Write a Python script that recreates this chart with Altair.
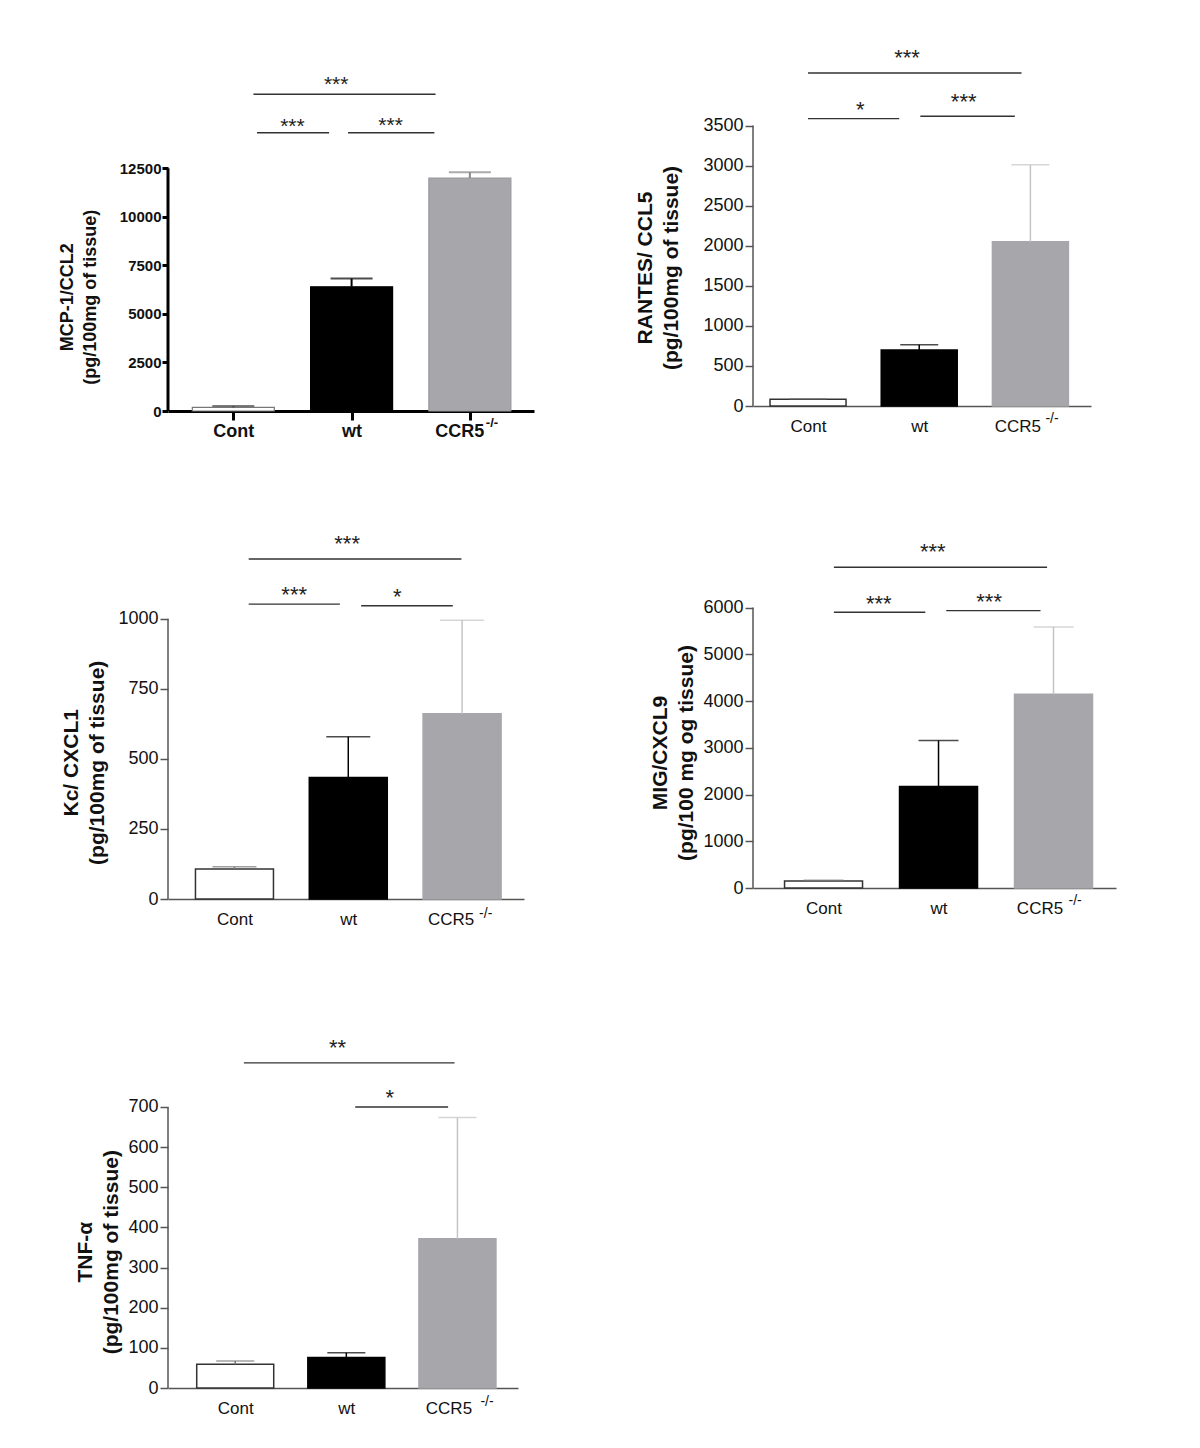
import altair as alt
import pandas as pd

FONT = "Liberation Sans"
groups = ["Cont", "wt", "CCR5"]
group_idx = [0, 1, 2]
superscript = "-/-"
bar_fill = ["#ffffff", "#000000", "#a7a6ab"]

# ---- MCP-1/CCL2 ----
mcp_title = ["MCP-1/CCL2", "(pg/100mg of tissue)"]
mcp_mean = [190, 6400, 12000]
mcp_err = [65, 420, 300]
mcp_ticks = [0, 2500, 5000, 7500, 10000, 12500]
mcp_sig_from = [0.17, 0.20, 0.97]
mcp_sig_to = [1.71, 0.81, 1.70]
mcp_sig_level = [16311, 14334, 14334]
mcp_sig_text = ["***", "***", "***"]
mcp_sig_text_x = [0.87, 0.50, 1.33]
mcp_sig_text_level = [17012, 14869, 14921]

# ---- RANTES/CCL5 ----
rantes_title = ["RANTES/ CCL5", "(pg/100mg of tissue)"]
rantes_mean = [85, 700, 2050]
rantes_err = [6, 65, 960]
rantes_ticks = [0, 500, 1000, 1500, 2000, 2500, 3000, 3500]
rantes_sig_from = [0.0, 0.0, 1.01]
rantes_sig_to = [1.92, 0.82, 1.86]
rantes_sig_level = [4157, 3587, 3616]
rantes_sig_text = ["***", "*", "***"]
rantes_sig_text_x = [0.89, 0.47, 1.40]
rantes_sig_text_level = [4406, 3753, 3857]

# ---- Kc/CXCL1 ----
kc_title = ["Kc/ CXCL1", "(pg/100mg of tissue)"]
kc_mean = [107, 433, 661]
kc_err = [8, 146, 333]
kc_ticks = [0, 250, 500, 750, 1000]
kc_sig_from = [0.125, 0.125, 1.113]
kc_sig_to = [1.994, 0.926, 1.918]
kc_sig_level = [1213, 1052, 1046]
kc_sig_text = ["***", "***", "*"]
kc_sig_text_x = [0.99, 0.525, 1.43]
kc_sig_text_level = [1283, 1100, 1094]

# ---- MIG/CXCL9 ----
mig_title = ["MIG/CXCL9", "(pg/100 mg og tissue)"]
mig_mean = [150, 2170, 4145]
mig_err = [15, 985, 1440]
mig_ticks = [0, 1000, 2000, 3000, 4000, 5000, 6000]
mig_sig_from = [0.09, 0.09, 1.067]
mig_sig_to = [1.944, 0.885, 1.887]
mig_sig_level = [6862, 5899, 5936]
mig_sig_text = ["***", "***", "***"]
mig_sig_text_x = [0.95, 0.48, 1.44]
mig_sig_text_level = [7284, 6171, 6227]

# ---- TNF-alpha ----
tnf_title = ["TNF-α", "(pg/100mg of tissue)"]
tnf_mean = [59, 76, 372]
tnf_err = [8, 12, 302]
tnf_ticks = [0, 100, 200, 300, 400, 500, 600, 700]
tnf_sig_from = [0.078, 1.08]
tnf_sig_to = [1.974, 1.916]
tnf_sig_level = [810, 700]
tnf_sig_text = ["**", "*"]
tnf_sig_text_x = [0.92, 1.39]
tnf_sig_text_level = [858, 735]

BOLD = dict(axis_color="#000000", axis_width=3, xticks=True, xtick=9, xpad=2,
            xlabel_size=18, ylabel_size=15, weight="bold", ytick=6, ypad=1,
            bar_stroke=["#777777", "#000000", "#9a999e"], bar_stroke_w=1.2,
            err_color=["#444444", "#000000", "#888888"], err_w=2,
            star_size=21, title_size=18, title_lh=23, sup_size=13)
PLAIN = dict(axis_color="#555555", axis_width=1.5, xticks=False, xtick=0, xpad=12,
             xlabel_size=17, ylabel_size=18, weight="normal", ytick=8, ypad=2,
             bar_stroke=["#333333", "#000000", "#a7a6ab"], bar_stroke_w=1.5,
             err_color=["#777777", "#000000", "#c4c4c4"], err_w=1.5,
             star_size=22, title_size=21, title_lh=26, sup_size=14)


def panel(title, means, errs, ticks, ymax, xdom, w, h, s_from, s_to, s_lvl, s_txt,
          s_tx, s_tl, st, bar_w, cap_w, title_x, title_y, ccr_off, sup_dx, sup_dy):
    data = pd.DataFrame({"idx": group_idx, "group": groups, "mean": means,
                         "top": [m + e for m, e in zip(means, errs)]})
    sig = pd.DataFrame({"x1": s_from, "x2": s_to, "lvl": s_lvl, "txt": s_txt,
                        "tx": s_tx, "tl": s_tl})
    xs = alt.Scale(domain=xdom, nice=False, zero=False)
    ys = alt.Scale(domain=[0, ymax], nice=False, zero=False)
    expr = "[" + ",".join("'%s'" % g for g in groups) + "][datum.value]"
    xaxis = alt.Axis(
        values=group_idx, labelExpr=expr, title=None, grid=False, labelFlush=False,
        labelOverlap=False, domainColor=st["axis_color"], domainWidth=st["axis_width"],
        ticks=st["xticks"], tickSize=st["xtick"], tickWidth=st["axis_width"],
        tickColor=st["axis_color"], labelFont=FONT, labelFontSize=st["xlabel_size"],
        labelFontWeight=st["weight"], labelColor="#111111", labelPadding=st["xpad"],
        labelOffset={"condition": {"test": "datum.value == %d" % group_idx[-1],
                                   "value": ccr_off}, "value": 0})
    # title_x is the outer edge of the last title line; Vega anchors the first line
    yaxis = alt.Axis(
        values=ticks, format="d", title=title, domain=False, grid=False, labelFlush=False,
        labelOverlap=False, tickSize=st["ytick"], tickWidth=st["axis_width"],
        tickColor=st["axis_color"], labelFont=FONT, labelFontSize=st["ylabel_size"],
        labelFontWeight=st["weight"], labelColor="#111111", labelPadding=st["ypad"],
        titleFont=FONT, titleFontSize=st["title_size"], titleFontWeight="bold",
        titleLineHeight=st["title_lh"], titleColor="#111111",
        titleX=title_x - st["title_lh"] * (len(title) - 1),
        titleY=title_y, titleAngle=270, titleAlign="center", titleBaseline="bottom")

    bars = alt.Chart(data).mark_bar(size=bar_w, orient="vertical",
                                    strokeWidth=st["bar_stroke_w"]).encode(
        x=alt.X("idx:Q", scale=xs, axis=xaxis),
        y=alt.Y("mean:Q", scale=ys, axis=yaxis, stack=None),
        fill=alt.Fill("group:N", scale=alt.Scale(domain=groups, range=bar_fill), legend=None),
        stroke=alt.Stroke("group:N", scale=alt.Scale(domain=groups, range=st["bar_stroke"]),
                          legend=None))
    ecol = alt.Color("group:N", scale=alt.Scale(domain=groups, range=st["err_color"]),
                     legend=None)
    err = alt.Chart(data).mark_rule(strokeWidth=st["err_w"]).encode(
        x="idx:Q", y="mean:Q", y2="top:Q", color=ecol)
    cap = alt.Chart(data).mark_tick(orient="horizontal", size=cap_w,
                                    thickness=st["err_w"]).encode(
        x="idx:Q", y="top:Q", color=ecol)
    lines = alt.Chart(sig).mark_rule(strokeWidth=1.4, color="#333333").encode(
        x="x1:Q", x2="x2:Q", y="lvl:Q")
    stars = alt.Chart(sig).mark_text(font=FONT, fontSize=st["star_size"], baseline="middle",
                                     dy=0.22 * st["star_size"], color="#222222").encode(
        x="tx:Q", y="tl:Q", text="txt:N")
    yl = pd.DataFrame({"lo": [0], "hi": [ticks[-1]]})
    yline = alt.Chart(yl).mark_rule(strokeWidth=st["axis_width"], color=st["axis_color"]).encode(
        x=alt.value(0), y="lo:Q", y2="hi:Q")
    sp = pd.DataFrame({"idx": [group_idx[-1]], "t": [superscript]})
    sup = alt.Chart(sp).mark_text(font=FONT, fontSize=st["sup_size"], fontWeight=st["weight"],
                                  align="left", baseline="alphabetic", dx=sup_dx,
                                  color="#111111").encode(
        x="idx:Q", y=alt.value(h + sup_dy), text="t:N")
    return alt.layer(bars, err, cap, lines, stars, yline, sup).properties(width=w, height=h)


p1 = panel(mcp_title, mcp_mean, mcp_err, mcp_ticks, 19108, [-0.51, 2.5], 366, 371,
           mcp_sig_from, mcp_sig_to, mcp_sig_level, mcp_sig_text, mcp_sig_text_x,
           mcp_sig_text_level, BOLD, 82, 42, -68.7, 256.7, -10.6, 16, 16.3)
p2 = panel(rantes_title, rantes_mean, rantes_err, rantes_ticks, 4568, [-0.45, 2.5], 338, 366,
           rantes_sig_from, rantes_sig_to, rantes_sig_level, rantes_sig_text, rantes_sig_text_x,
           rantes_sig_text_level, PLAIN, 76, 38, -72, 227.5, -13, 15, 17)
p3 = panel(kc_title, kc_mean, kc_err, kc_ticks, 1384, [-0.54, 2.5], 356, 388,
           kc_sig_from, kc_sig_to, kc_sig_level, kc_sig_text, kc_sig_text_x,
           kc_sig_text_level, PLAIN, 78, 44, -60.3, 251.3, -11.5, 17, 19)
p4 = panel(mig_title, mig_mean, mig_err, mig_ticks, 8067, [-0.57, 2.5], 363, 377,
           mig_sig_from, mig_sig_to, mig_sig_level, mig_sig_text, mig_sig_text_x,
           mig_sig_text_level, PLAIN, 78, 40, -57, 241.5, -14, 15, 17.3)
p5 = panel(tnf_title, tnf_mean, tnf_err, tnf_ticks, 969, [-0.56, 2.5], 350, 389,
           tnf_sig_from, tnf_sig_to, tnf_sig_level, tnf_sig_text, tnf_sig_text_x,
           tnf_sig_text_level, PLAIN, 77, 38, -47, 252.7, -9, 23, 18)

chart = alt.concat(p1, p2, p3, p4, p5, columns=2, spacing={"row": 100, "column": 219},
                   bounds="flush").resolve_scale(
    color="independent", fill="independent", stroke="independent"
).configure(
    font=FONT, background="white",
    padding={"left": 50, "top": 32, "right": 5, "bottom": 5}
).configure_view(stroke="transparent", strokeWidth=0)

chart.save("out.html", embed_options={"renderer": "svg", "actions": False})
